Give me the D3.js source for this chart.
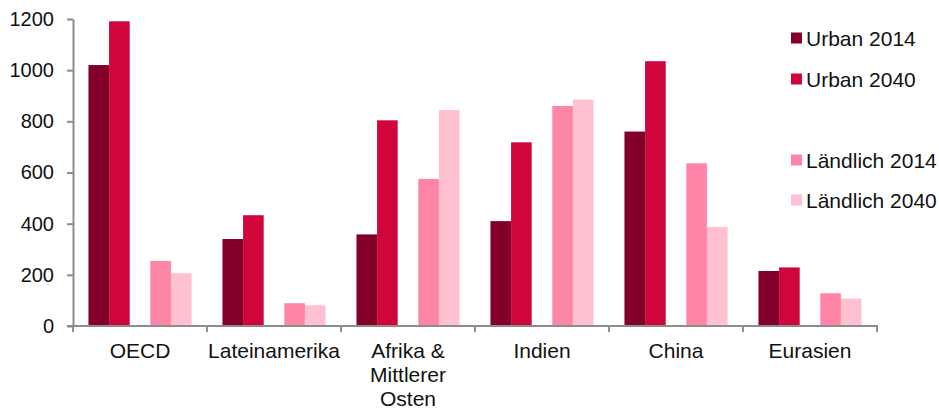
<!DOCTYPE html>
<html>
<head>
<meta charset="utf-8">
<script src="https://cdn.jsdelivr.net/npm/d3@7"></script>
<style>
  html, body { margin: 0; padding: 0; background: #fff; }
  svg { display: block; font-family: "Liberation Sans", Arial, sans-serif; }
</style>
</head>
<body>
<svg id="chart" width="939" height="409"></svg>
<script>
// Regions on the x axis (multi-line labels split on "\n")
const regions = ["OECD", "Lateinamerika", "Afrika &\nMittlerer\nOsten", "Indien", "China", "Eurasien"];

// Series values per region
const urban2014    = [1020, 340, 358, 410, 760, 215];
const urban2040    = [1191, 433, 804, 718, 1035, 229];
const laendlich2014 = [254, 89, 575, 860, 636, 128];
const laendlich2040 = [206, 81, 844, 885, 387, 107];

const seriesNames = ["Urban 2014", "Urban 2040", "Ländlich 2014", "Ländlich 2040"];
const seriesColors = ["#82002a", "#d0053c", "#ff85a6", "#ffc0d0"];
const seriesValues = [urban2014, urban2040, laendlich2014, laendlich2040];
// Slot of each series within a group (slot 2 is left empty as a spacer)
const seriesSlot = [0, 1, 3, 4];

const yTicks = [0, 200, 400, 600, 800, 1000, 1200];

(function draw() {
  const svg = d3.select("#chart");
  const plotLeft = 73, plotRight = 877, plotTop = 19, plotBottom = 326;

  const x = d3.scaleBand().domain(d3.range(regions.length)).range([plotLeft, plotRight]).padding(0);
  const slots = d3.scaleBand().domain(d3.range(5)).range([0, x.bandwidth()])
    .paddingInner(0).paddingOuter(0.75);
  const y = d3.scaleLinear().domain([0, 1200]).range([plotBottom, plotTop]);

  const axisColor = "#8c8c8c";

  // Bars
  seriesValues.forEach((vals, si) => {
    svg.append("g").selectAll("rect").data(vals).join("rect")
      .attr("x", (d, i) => x(i) + slots(seriesSlot[si]))
      .attr("y", d => y(d))
      .attr("width", slots.bandwidth())
      .attr("height", d => y(0) - y(d))
      .attr("fill", seriesColors[si]);
  });

  // Y axis
  const yAxis = svg.append("g")
    .attr("transform", `translate(${plotLeft},0)`)
    .call(d3.axisLeft(y).tickValues(yTicks).tickFormat(d3.format("d"))
      .tickSize(6).tickPadding(13).tickSizeOuter(0));
  yAxis.select(".domain").attr("stroke", axisColor).attr("stroke-width", 2);
  yAxis.selectAll(".tick line").attr("stroke", axisColor).attr("stroke-width", 2);
  yAxis.selectAll(".tick text").attr("font-size", 20).attr("fill", "#111")
    .attr("font-family", "Liberation Sans, Arial, sans-serif");

  // X axis with ticks at category boundaries
  const xAxisG = svg.append("g").attr("transform", `translate(0,${plotBottom})`);
  xAxisG.append("line").attr("x1", plotLeft - 6).attr("x2", plotRight + 1)
    .attr("stroke", axisColor).attr("stroke-width", 2);
  const boundaries = d3.range(regions.length + 1)
    .map(i => i < regions.length ? x(i) : x(i - 1) + x.bandwidth());
  xAxisG.selectAll("line.tk").data(boundaries).join("line").attr("class", "tk")
    .attr("x1", d => d).attr("x2", d => d).attr("y1", 0).attr("y2", 6)
    .attr("stroke", axisColor).attr("stroke-width", 2);

  const labels = xAxisG.selectAll("text.cat").data(regions).join("text").attr("class", "cat")
    .attr("text-anchor", "middle")
    .attr("font-size", 21).attr("fill", "#111")
    .attr("transform", (d, i) => `translate(${x(i) + x.bandwidth() / 2},32)`);
  labels.selectAll("tspan").data(d => d.split("\n")).join("tspan")
    .attr("x", 0).attr("dy", (d, i) => i === 0 ? 0 : 24).text(d => d);

  // Legend
  const legendY = [38, 79, 160, 200];
  const legend = svg.append("g");
  seriesNames.forEach((name, i) => {
    legend.append("rect").attr("x", 791).attr("y", legendY[i] - 5.5)
      .attr("width", 11).attr("height", 11).attr("fill", seriesColors[i]);
    legend.append("text").attr("x", 806).attr("y", legendY[i] + 7.5)
      .attr("font-size", 21).attr("fill", "#111").text(name);
  });
})();
</script>
</body>
</html>
